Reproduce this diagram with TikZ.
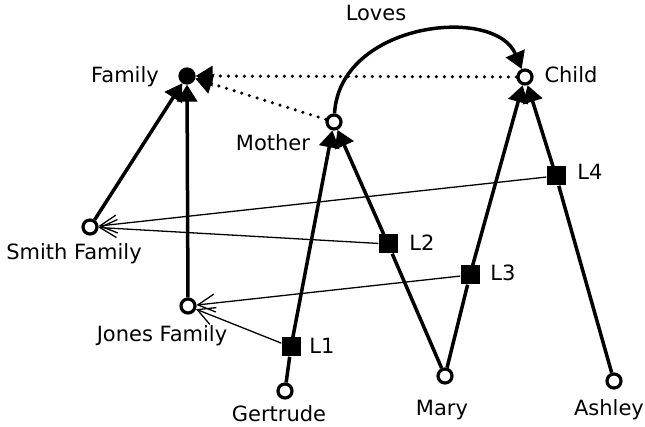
\documentclass[tikz,border=0pt]{standalone}
\usepackage{fontspec}
\setmainfont{DejaVu Sans}
\usetikzlibrary{arrows.meta}
\tikzset{
	person/.style={circle, draw=black, line width=3.2pt, fill=white, minimum size=14pt, inner sep=0pt},
	kind/.style={person, fill=black},
	link/.style={rectangle, fill=black, minimum size=19pt, inner sep=0pt},
	lbl/.style={anchor=base, inner sep=0pt, font=\fontsize{21}{25}\selectfont},
	role/.style={line width=3.5pt, -{Triangle[length=17pt,width=20pt]}},
	refer/.style={line width=1.3pt, -{Straight Barb[length=17pt,width=18pt]}},
	member/.style={line width=3.5pt, line cap=round, dash pattern=on 0pt off 8pt, -{Triangle[length=17pt,width=20pt]}},
}

\begin{document}
\begin{tikzpicture}[x=1pt, y=1pt]
			%%%%% START %%%%%
			
			\useasboundingbox (0, 0) rectangle (645, 427);
			
			\node[kind] (family) at (187, 351) {};
			\node[person] (child) at (525, 350) {};
			\node[person] (mother) at (334, 305) {};
			\node[person] (smith) at (90, 200) {};
			\node[person] (jones) at (188, 121) {};
			\node[person] (gertrude) at (285, 36) {};
			\node[person] (mary) at (445, 51) {};
			\node[person] (ashley) at (614, 46) {};
			
			\node[link] (l1) at (291, 80) {};
			\node[link] (l2) at (388, 183) {};
			\node[link] (l3) at (470, 152) {};
			\node[link] (l4) at (556, 251) {};
			
			\node[lbl] (familylbl) at (125, 344) {Family};
			\node[lbl] (childlbl) at (571, 344) {Child};
			\node[lbl] (motherlbl) at (273, 276) {Mother};
			\node[lbl] (smithlbl) at (74, 167) {Smith Family};
			\node[lbl] (joneslbl) at (162, 85) {Jones Family};
			\node[lbl] (gertrudelbl) at (279, 5) {Gertrude};
			\node[lbl] (marylbl) at (442, 11) {Mary};
			\node[lbl] (ashleylbl) at (609, 11) {Ashley};
			\node[lbl] (l1lbl) at (322, 73) {L1};
			\node[lbl] (l2lbl) at (422, 176) {L2};
			\node[lbl] (l3lbl) at (503, 146) {L3};
			\node[lbl] (l4lbl) at (590, 247) {L4};
			\node[lbl] (loveslbl) at (376, 406) {Loves};
			
			\draw[role] (smith) -- (family);
			\draw[role] (jones) -- (family);
			\draw[role] (gertrude) -- (l1) -- (mother);
			\draw[role] (mary) -- (l2) -- (mother);
			\draw[role] (mary) -- (l3) -- (child);
			\draw[role] (ashley) -- (l4) -- (child);
			
			\draw[member] (mother) -- (family);
			\draw[member] (child) -- (family);
			
			\draw[role] (mother) .. controls +(6, 100) and +(-30, 72) .. (child);
			
			\draw[refer] (l4) -- (smith);
			\draw[refer] (l2) -- (smith);
			\draw[refer] (l3) -- (jones);
			\draw[refer] (l1) -- (jones);
			
			%%%%% END %%%%%
\end{tikzpicture}
\end{document}
